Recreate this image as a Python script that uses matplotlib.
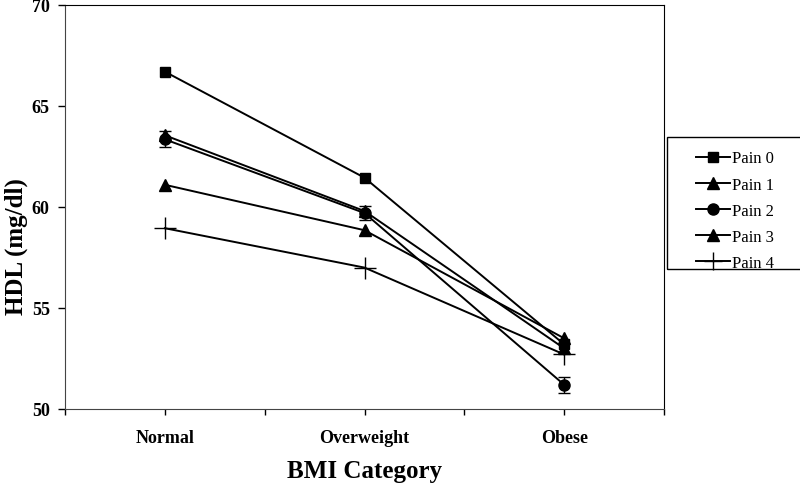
import numpy as np
import matplotlib
matplotlib.use("Agg")
import matplotlib.pyplot as plt
from matplotlib.patches import Rectangle
from matplotlib.lines import Line2D

plt.rcParams['font.family'] = ['Liberation Serif', 'DejaVu Serif']

# data
categories = ['Normal', 'Overweight', 'Obese']
cat_pos = [1, 3, 5]
series_names = ['Pain 0', 'Pain 1', 'Pain 2', 'Pain 3', 'Pain 4']
pain0 = [66.7, 61.45, 53.2]
pain1 = [63.55, 59.8, 53.0]
pain2 = [63.35, 59.7, 51.2]
pain3 = [61.1, 58.85, 53.5]
pain4 = [58.95, 57.0, 52.7]
pain2_err = [0.4, 0.35, 0.4]
yticks = [50, 55, 60, 65, 70]

fig = plt.figure(figsize=(8, 4.89), dpi=100)
ax = fig.add_axes([65/800, 1-410/489, 599/800, 404/489])

lw = 1.4
ax.plot(cat_pos, pain0, color='black', lw=lw, marker='s', ms=7)
ax.plot(cat_pos, pain1, color='black', lw=lw, marker='^', ms=8)
ax.errorbar(cat_pos, pain2, yerr=pain2_err, color='black', lw=lw, marker='o', ms=8,
            capsize=4, elinewidth=1, capthick=1)
ax.plot(cat_pos, pain3, color='black', lw=lw, marker='^', ms=8)
ax.plot(cat_pos, pain4, color='black', lw=lw, marker='+', ms=16, mew=1)

ax.set_xlim(0, 6)
ax.set_ylim(50, 70)
ax.set_yticks(yticks)
ax.set_yticklabels([str(v) for v in yticks], fontsize=13, fontweight='bold')
ax.tick_params(axis='y', direction='out', length=5, width=1, pad=6)

ax.set_xticks(np.arange(0, 7))
ax.set_xticklabels([])
ax.tick_params(axis='x', which='major', direction='out', length=4, width=1)
for p, c in zip(cat_pos, categories):
    ax.text(p, -0.07, c, transform=ax.get_xaxis_transform(), ha='center', va='center',
            fontsize=13, fontweight='bold')

for s in ['left', 'bottom']:
    ax.spines[s].set_color('#444444')
for s in ['top', 'right']:
    ax.spines[s].set_color('black')

ax.text((16-65)/599, (410-247)/404, 'HDL (mg/dl)', transform=ax.transAxes, rotation=90,
        ha='center', va='center', fontsize=18, fontweight='bold')
ax.set_xlabel('BMI Category', fontsize=18, fontweight='bold')
ax.xaxis.set_label_coords(0.5, -0.125)

markers = ['s', '^', 'o', '^', '+']
sizes = [7, 8, 8, 8, 13]
handles = [Line2D([], [], color='black', lw=lw, marker=m, ms=s, mew=1 if m == '+' else None)
           for m, s in zip(markers, sizes)]
leg = fig.legend(handles, series_names, loc='upper left', bbox_to_anchor=(688/800, 1-143/489),
                 frameon=False, fontsize=12, borderpad=0, handlelength=2.0,
                 handletextpad=0.15, labelspacing=0.61)
fig.patches.append(Rectangle((667/800, 1-270/489), 140/800, 132/489,
                             transform=fig.transFigure, fill=False,
                             edgecolor='black', lw=1))

fig.savefig('out.png', dpi=100)
